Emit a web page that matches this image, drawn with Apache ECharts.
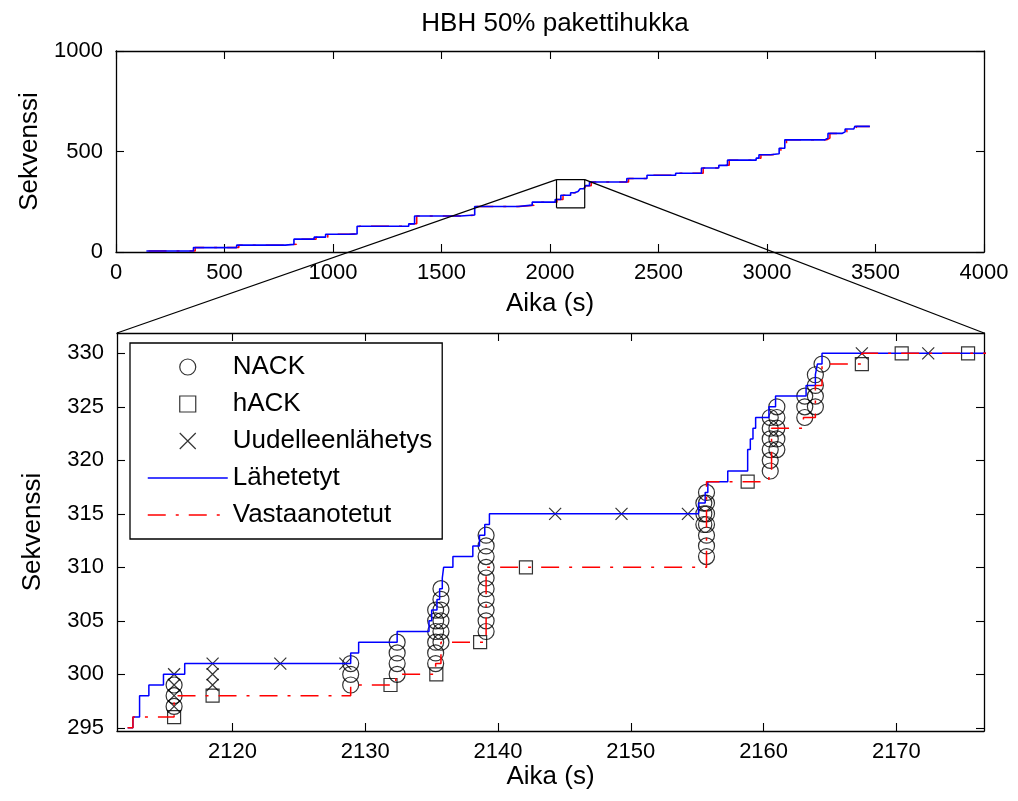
<!DOCTYPE html>
<html>
<head>
<meta charset="utf-8">
<script src="https://cdn.jsdelivr.net/npm/echarts@6/dist/echarts.min.js"></script>
<style>
  html, body { margin: 0; padding: 0; background: #fff; }
  #c { width: 1018px; height: 801px; }
</style>
</head>
<body>
<div id="c"></div>
<script>
// ---- Overview trace over the whole run: [time (s), sequence] at each step ----
const overviewSent = [
  [140,5],[357,22],[556,34],[780,38],[820,64],[913,74],[966,88],[1071,90],[1111,128],
  [1349,140],[1376,179],[1588,184],[1653,226],[1852,233],[1918,248],[2024,261],[2050,282],
  [2095,295],[2113,298],[2117,301],[2129,303],[2136,310],[2139,315],[2156,318],[2159,324],
  [2164,330],[2182,348],[2354,366],[2447,382],[2579,392],[2698,418],[2778,431],[2818,457],
  [2950,467],[2963,484],[3016,489],[3056,516],[3082,558],[3267,567],[3281,590],[3347,598],
  [3360,612],[3400,618],[3405,625],[3474,625]
];
const overviewRecv = [
  [150,5],[365,22],[566,34],[790,38],[832,64],[922,74],[976,88],[1080,90],[1120,128],
  [1358,140],[1386,179],[1597,184],[1662,226],[1860,233],[1927,248],[2032,261],[2060,282],
  [2100,295],[2116,298],[2132,300],[2139,310],[2156,318],[2164,329],[2167,330],[2190,348],
  [2362,366],[2456,382],[2588,392],[2706,418],[2786,431],[2826,457],[2958,467],[2972,484],
  [3024,489],[3064,516],[3090,558],[3275,567],[3290,590],[3355,598],[3368,612],[3408,618],
  [3414,625],[3474,625]
];
// Marker box drawn on the overview around the detailed window
const markBoxX = [2030, 2160];
const markBoxY = [220, 360];

// ---- Detailed window ----
const zoomRangeX = [2111.3, 2176.6];
const zoomRangeY = [294.7, 331.9];

// Sent sequence (stairs)
const sentSteps = [
  [2112.1,295],[2112.5,296],[2113.0,298],[2113.7,299],[2114.8,300],[2116.4,301],
  [2128.9,302],[2129.5,303],[2132.4,304],[2134.8,305],[2135.0,306],[2135.4,307],
  [2135.6,308],[2135.8,309],[2135.9,310],[2136.6,311],[2138.1,312],[2138.6,313],
  [2139.0,314],[2139.35,315],[2155.1,316],[2155.6,317],[2155.8,318],[2157.3,319],
  [2158.8,321],[2159.0,322],[2159.2,323],[2159.4,324],[2160.4,325],[2160.9,326],
  [2163.2,327],[2163.9,328],[2164.05,329],[2164.4,330],[2177.5,330]
];
// Received sequence (stairs)
const recvSteps = [
  [2112.1,295],[2112.5,296],[2115.6,298],[2128.9,299],[2132.3,300],[2135.3,301],
  [2135.7,303],[2139.1,310],[2155.7,318],[2160.4,319],[2160.6,323],[2163.0,324],
  [2163.9,327],[2164.4,329],[2167.4,330],[2177.5,330]
];
// NACK events
const nackPoints = [
  [2115.6,297],[2115.6,298],[2115.6,299],
  [2128.9,299],[2128.9,300],[2128.9,301],
  [2132.4,300],[2132.4,301],[2132.4,302],[2132.4,303],
  [2135.3,301],[2135.3,302],[2135.3,303],[2135.3,304],[2135.3,305],[2135.3,306],
  [2135.7,303],[2135.7,304],[2135.7,305],[2135.7,306],[2135.7,307],[2135.7,308],
  [2139.1,304],[2139.1,305],[2139.1,306],[2139.1,307],[2139.1,308],[2139.1,309],
  [2139.1,310],[2139.1,311],[2139.1,312],[2139.1,313],
  [2155.7,311],[2155.7,312],[2155.7,313],[2155.7,314],[2155.7,315],[2155.7,316],[2155.7,317],
  [2155.5,314],[2155.5,315],[2155.5,316],
  [2160.5,319],[2160.5,320],[2160.5,321],[2160.5,322],[2160.5,323],[2160.5,324],
  [2161.0,321],[2161.0,322],[2161.0,323],[2161.0,324],[2161.0,325],
  [2163.1,324],[2163.1,325],[2163.1,326],
  [2163.9,325],[2163.9,326],[2163.9,327],[2163.9,328],
  [2164.4,329]
];
// hACK events
const hackPoints = [
  [2115.6,296],[2118.5,298],[2131.9,299],[2135.35,300],[2138.65,303],[2142.1,310],
  [2158.8,318],[2167.4,329],[2170.4,330],[2175.4,330]
];
// Retransmissions
const retxPoints = [
  [2115.6,297],[2115.6,298],[2115.6,299],[2115.6,300],
  [2118.5,299],[2118.5,300],[2118.5,301],
  [2123.6,301],[2128.5,301],
  [2144.3,315],[2149.3,315],[2154.3,315],
  [2167.4,330],[2172.4,330]
];

// Tick values
const overviewTicksX = [0,500,1000,1500,2000,2500,3000,3500,4000];
const overviewTicksY = [0,500,1000];
const zoomTicksX = [2120,2130,2140,2150,2160,2170];
const zoomTicksY = [295,300,305,310,315,320,325,330];

const FONT = 'Liberation Sans';
const TICK_FONT = 22;
const NAME_FONT = 26;
const AXIS_LINE = { show: true, onZero: false, lineStyle: { color: '#000', width: 1.3 } };
const plain = v => String(v);

// Marker outlines (open square and cross as paths so they keep their aspect everywhere)
const SQUARE = 'path://M0,0L10,0L10,10L0,10Z';
const CROSS = 'path://M0,0L10,10M10,0L0,10';

function axis(grid, pos, range, ticks, opts) {
  const a = {
    gridIndex: grid, type: 'value', position: pos,
    min: range[0], max: range[1],
    axisLine: AXIS_LINE,
    splitLine: { show: false },
    axisTick: { show: true, inside: true, length: 8, customValues: ticks,
                lineStyle: { color: '#000', width: 1.1 } },
    axisLabel: { show: !!opts.labels, customValues: ticks, formatter: plain,
                 fontFamily: FONT, fontSize: TICK_FONT, color: '#000', margin: opts.margin || 10 }
  };
  if (opts.name) {
    a.name = opts.name;
    a.nameLocation = 'middle';
    a.nameGap = opts.nameGap;
    a.nameTextStyle = { fontFamily: FONT, fontSize: NAME_FONT, color: '#000' };
  }
  return a;
}

const hollow = { color: 'rgba(0,0,0,0)', borderColor: '#000', borderWidth: 1.2 };
const redDash = [18, 10, 3, 10];
const noSymbol = { color: 'rgba(0,0,0,0)', borderWidth: 0 };

const chart = echarts.init(document.getElementById('c'));
chart.setOption({
  animation: false,
  backgroundColor: '#fff',
  title: {
    text: 'HBH 50% pakettihukka', left: 550, top: 6, textAlign: 'center',
    textStyle: { fontFamily: FONT, fontSize: NAME_FONT, fontWeight: 'normal', color: '#000' }
  },
  grid: [
    { left: 116, top: 51, width: 868, height: 201 },
    { left: 117, top: 333, width: 867, height: 398 }
  ],
  xAxis: [
    axis(0, 'bottom', [0, 4000], overviewTicksX, { labels: true, margin: 10, name: 'Aika (s)', nameGap: 39 }),
    axis(0, 'top', [0, 4000], overviewTicksX, {}),
    axis(1, 'bottom', zoomRangeX, zoomTicksX, { labels: true, margin: 10, name: 'Aika (s)', nameGap: 23 }),
    axis(1, 'top', zoomRangeX, zoomTicksX, {})
  ],
  yAxis: [
    axis(0, 'left', [0, 1000], overviewTicksY, { labels: true, margin: 13, name: 'Sekvenssi', nameGap: 71 }),
    axis(0, 'right', [0, 1000], overviewTicksY, {}),
    axis(1, 'left', zoomRangeY, zoomTicksY, { labels: true, margin: 13, name: 'Sekvenssi', nameGap: 71 }),
    axis(1, 'right', zoomRangeY, zoomTicksY, {})
  ],
  legend: {
    orient: 'vertical', left: 130, top: 343,
    padding: [11, 10, 11, 17],
    itemWidth: 80, itemHeight: 16, itemGap: 11,
    backgroundColor: '#fff', borderColor: '#000', borderWidth: 1.3,
    selectedMode: false,
    symbolKeepAspect: true,
    itemStyle: { borderWidth: 1.2 },
    lineStyle: { width: 1.5 },
    textStyle: { fontFamily: FONT, fontSize: NAME_FONT, color: '#000' },
    data: [
      { name: 'NACK' },
      { name: 'hACK' },
      { name: 'Uudelleenlähetys' },
      { name: 'Lähetetyt', itemStyle: noSymbol },
      { name: 'Vastaanotetut', itemStyle: noSymbol }
    ]
  },
  series: [
    // overview
    { name: 'overview-recv', type: 'line', xAxisIndex: 0, yAxisIndex: 0, step: 'end',
      data: overviewRecv, symbol: 'none', silent: true,
      lineStyle: { color: '#ff0000', width: 1.5, type: redDash } },
    { name: 'overview-sent', type: 'line', xAxisIndex: 0, yAxisIndex: 0, step: 'end',
      data: overviewSent, symbol: 'none', silent: true,
      lineStyle: { color: '#0000ff', width: 1.6 } },
    { name: 'mark-box', type: 'line', xAxisIndex: 0, yAxisIndex: 0, symbol: 'none', silent: true,
      data: [[markBoxX[0], markBoxY[0]], [markBoxX[1], markBoxY[0]], [markBoxX[1], markBoxY[1]],
             [markBoxX[0], markBoxY[1]], [markBoxX[0], markBoxY[0]]],
      lineStyle: { color: '#000', width: 1.2 } },
    // detailed window
    { name: 'NACK', type: 'scatter', xAxisIndex: 2, yAxisIndex: 2, data: nackPoints,
      symbol: 'circle', symbolSize: 16, symbolKeepAspect: true, itemStyle: hollow, silent: true },
    { name: 'hACK', type: 'scatter', xAxisIndex: 2, yAxisIndex: 2, data: hackPoints,
      symbol: SQUARE, symbolSize: 13, symbolKeepAspect: true, itemStyle: hollow, silent: true },
    { name: 'Uudelleenlähetys', type: 'scatter', xAxisIndex: 2, yAxisIndex: 2, data: retxPoints,
      symbol: CROSS, symbolSize: 12, symbolKeepAspect: true, itemStyle: hollow, silent: true },
    { name: 'Lähetetyt', type: 'line', xAxisIndex: 2, yAxisIndex: 2, step: 'end',
      data: sentSteps, symbol: 'none', silent: true,
      itemStyle: { color: '#0000ff' },
      lineStyle: { color: '#0000ff', width: 1.5 } },
    { name: 'Vastaanotetut', type: 'line', xAxisIndex: 2, yAxisIndex: 2, step: 'end',
      data: recvSteps, symbol: 'none', silent: true,
      itemStyle: { color: '#ff0000' },
      lineStyle: { color: '#ff0000', width: 1.5, type: redDash } }
  ]
});

// Leader lines from the marker box to the top corners of the detailed axes
const boxTL = chart.convertToPixel({ xAxisIndex: 0, yAxisIndex: 0 }, [markBoxX[0], markBoxY[1]]);
const boxTR = chart.convertToPixel({ xAxisIndex: 0, yAxisIndex: 0 }, [markBoxX[1], markBoxY[1]]);
const zoomTL = chart.convertToPixel({ xAxisIndex: 2, yAxisIndex: 2 }, [zoomRangeX[0], zoomRangeY[1]]);
const zoomTR = chart.convertToPixel({ xAxisIndex: 2, yAxisIndex: 2 }, [zoomRangeX[1], zoomRangeY[1]]);
chart.setOption({
  graphic: [
    { type: 'line', z: 50, silent: true,
      shape: { x1: boxTL[0], y1: boxTL[1], x2: zoomTL[0], y2: zoomTL[1] },
      style: { stroke: '#000', lineWidth: 1.2 } },
    { type: 'line', z: 50, silent: true,
      shape: { x1: boxTR[0], y1: boxTR[1], x2: zoomTR[0], y2: zoomTR[1] },
      style: { stroke: '#000', lineWidth: 1.2 } }
  ]
});
</script>
</body>
</html>
